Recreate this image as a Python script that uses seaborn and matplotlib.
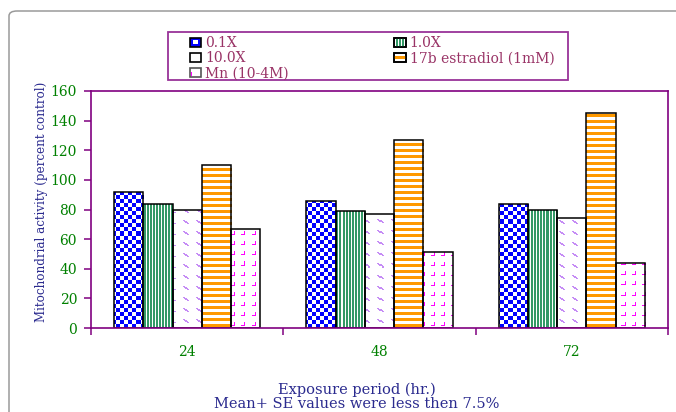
import numpy as np
import pandas as pd
import matplotlib
matplotlib.use("Agg")
import matplotlib.pyplot as plt
import seaborn as sns
from matplotlib.patches import Rectangle, FancyBboxPatch, Patch
from matplotlib.legend_handler import HandlerBase

# ---------------- data ----------------
periods = ["24", "48", "72"]
treatments = ["0.1X", "1.0X", "10.0X", "17b estradiol (1mM)", "Mn (10-4M)"]
v_01x = [92, 86, 84]
v_10x = [84, 79, 80]
v_100x = [80, 77, 74]
v_estradiol = [110, 127, 145]
v_mn = [67, 51, 44]
y_ticks = [0, 20, 40, 60, 80, 100, 120, 140, 160]

series = [v_01x, v_10x, v_100x, v_estradiol, v_mn]
df = pd.DataFrame({
    "period": periods * len(treatments),
    "treatment": [t for t in treatments for _ in periods],
    "value": [v for s in series for v in s],
})

# ---------------- style ----------------
sns.set_theme(style="white")
plt.rcParams["font.family"] = ["DejaVu Serif", "DejaVu Sans"]

W, H = 676, 412
PURPLE = "#800080"
GREEN = "#008000"
NAVY = "#2b2b8f"
LEGTXT = "#993366"

fig = plt.figure(figsize=(W / 100, H / 100), dpi=100)
fig.patch.set_facecolor("white")

# outer rounded frame (extends beyond right/bottom edges)
fig.patches.append(FancyBboxPatch((9 / W, -30 / H), 720 / W, (H - 11 + 30) / H,
                                  boxstyle="round,pad=0,rounding_size=0.012",
                                  transform=fig.transFigure, fc="none",
                                  ec="#9a9a9a", lw=1.1, zorder=0))

ax = fig.add_axes([91 / W, (H - 328) / H, (668 - 91) / W, (328 - 91) / H])
ax.set_facecolor("white")

pal = {t: "white" for t in treatments}
sns.barplot(data=df, x="period", y="value", hue="treatment", order=periods,
            hue_order=treatments, palette=pal, saturation=1, width=0.76,
            edgecolor="black", linewidth=1.1, errorbar=None, legend=False, ax=ax)

ax.set_xlim(-0.5, 2.5)
ax.set_ylim(0, 160)

# ---------------- fill patterns ----------------
def rgba(hexc):
    return np.array(matplotlib.colors.to_rgba(hexc))

WHITE = rgba("white")

def pat_checker(X, Y):
    m = ((X // 4) + (Y // 4)) % 2 == 0
    return m, rgba("#0000ff")

def pat_vstripe(X, Y):
    m = (X % 3) < 2
    return m, rgba("#339966")

def pat_dash(X, Y):
    lx, ly = X % 13, Y % 11
    m = ((ly == 0) & (lx >= 0) & (lx <= 1)) | \
        ((ly == 1) & (lx >= 1) & (lx <= 3)) | \
        ((ly == 2) & (lx >= 2) & (lx <= 4)) | \
        ((ly == 3) & (lx >= 4) & (lx <= 5))
    return m, rgba("#c58cf5")

def pat_hstripe(X, Y):
    m = (Y % 6) < 3
    return m, rgba("#ff9900")

def pat_corner(X, Y):
    lx, ly = X % 10, Y % 10
    m = ((ly == 5) & (lx >= 1) & (lx <= 4)) | ((lx == 4) & (ly >= 2) & (ly <= 5))
    return m, rgba("#ff00ff")

patterns = [pat_checker, pat_vstripe, pat_dash, pat_hstripe, pat_corner]

fig.canvas.draw()
inv = ax.transData.inverted()
for cont, pfun in zip(ax.containers, patterns):
    for p in cont.patches:
        x0, y0, w, h = p.get_x(), p.get_y(), p.get_width(), p.get_height()
        d = ax.transData.transform([(x0, y0), (x0 + w, y0 + h)])
        px0, px1 = int(np.floor(d[:, 0].min())), int(np.ceil(d[:, 0].max()))
        py0, py1 = int(np.floor(d[:, 1].min())), int(np.ceil(d[:, 1].max()))
        nx, ny = px1 - px0, py1 - py0
        jj, ii = np.meshgrid(np.arange(nx), np.arange(ny))
        X = px0 + jj
        Y = (H - py1) + ii
        m, col = pfun(X, Y)
        arr = np.tile(WHITE, (ny, nx, 1))
        arr[m] = col
        e0 = inv.transform((px0, py0))
        e1 = inv.transform((px1, py1))
        im = ax.imshow(arr, extent=(e0[0], e1[0], e0[1], e1[1]), origin="upper",
                       interpolation="nearest", aspect="auto", zorder=1.5)
        im.set_clip_path(p)
        p.set_facecolor("none")
        p.set_zorder(2)

ax.set_xlim(-0.5, 2.5)
ax.set_ylim(0, 160)

# ---------------- axes styling ----------------
for s in ax.spines.values():
    s.set_visible(True)
    s.set_color(PURPLE)
    s.set_linewidth(1.2)

ax.set_yticks(y_ticks)
ax.set_yticklabels([str(t) for t in y_ticks])
ax.tick_params(axis="y", which="major", direction="out", length=5, width=1.1,
               color=PURPLE, labelcolor=GREEN, labelsize=10, pad=5, left=True)
ax.set_xticks([0, 1, 2])
ax.set_xticklabels(periods)
ax.set_xticks([-0.5, 0.5, 1.5, 2.5], minor=True)
ax.tick_params(axis="x", which="major", length=0, labelcolor=GREEN,
               labelsize=10, pad=12)
ax.tick_params(axis="x", which="minor", direction="out", length=5, width=1.1,
               color=PURPLE, bottom=True)
ax.set_xlabel("")
ax.set_ylabel("")
ax.grid(False)

fig.text(42 / W, 1 - 202 / H, "Mitochondrial activity (percent control)",
         rotation=90, ha="center", va="center", color=NAVY, fontsize=8.6)
fig.text(357 / W, 1 - 390 / H, "Exposure period (hr.)", ha="center",
         va="center", color=NAVY, fontsize=10.5)
fig.text(357 / W, 1 - 404 / H, "Mean+ SE values were less then 7.5%",
         ha="center", va="center", color=NAVY, fontsize=10.5)

# ---------------- legend ----------------
class SwatchHandler(HandlerBase):
    def __init__(self, kind):
        super().__init__()
        self.kind = kind

    def create_artists(self, legend, orig_handle, xdescent, ydescent, width,
                       height, fontsize, trans):
        x, y = -xdescent, -ydescent
        arts = []
        k = self.kind
        base_fc = {"0.1X": "#0000ff"}.get(k, "white")
        arts.append(Rectangle((x, y), width, height, fc=base_fc, ec="black",
                              lw=1.2, transform=trans))
        if k == "0.1X":
            arts.append(Rectangle((x + width * 0.3, y + height * 0.3), width * 0.4,
                                  height * 0.4, fc="white", ec="none", transform=trans))
        elif k == "1.0X":
            for f in (0.18, 0.45, 0.72):
                arts.append(Rectangle((x + width * f, y), width * 0.14, height,
                                      fc="#339966", ec="none", transform=trans))
            arts.append(Rectangle((x, y), width, height, fc="none", ec="black",
                                  lw=1.2, transform=trans))
        elif k == "17b estradiol (1mM)":
            arts.append(Rectangle((x, y + height * 0.3), width, height * 0.4,
                                  fc="#ff9900", ec="none", transform=trans))
            arts.append(Rectangle((x, y), width, height, fc="none", ec="black",
                                  lw=1.2, transform=trans))
        elif k == "Mn (10-4M)":
            arts[0].set_edgecolor("#555555")
            arts.append(Rectangle((x + width * 0.1, y + height * 0.1), width * 0.12,
                                  height * 0.45, fc="#ff00ff", ec="none", transform=trans))
        return arts

handles = {t: Patch(label=t) for t in treatments}
order = ["0.1X", "10.0X", "Mn (10-4M)", "1.0X", "17b estradiol (1mM)"]
leg = fig.legend([handles[t] for t in order], order, loc="upper left",
                 bbox_to_anchor=(190 / W, 1 - 36 / H), ncol=2, frameon=False,
                 borderpad=0, borderaxespad=0, handlelength=0.8, handleheight=0.6,
                 handletextpad=0.3, labelspacing=0.1, columnspacing=7.6,
                 fontsize=10, labelcolor=LEGTXT,
                 handler_map={handles[t]: SwatchHandler(t) for t in treatments})

fig.patches.append(Rectangle((168 / W, 1 - 80 / H), 400 / W, 48 / H,
                             transform=fig.transFigure, fc="none", ec="#993399",
                             lw=1.3, zorder=5))

fig.savefig("out.png", dpi=100, facecolor="white")
